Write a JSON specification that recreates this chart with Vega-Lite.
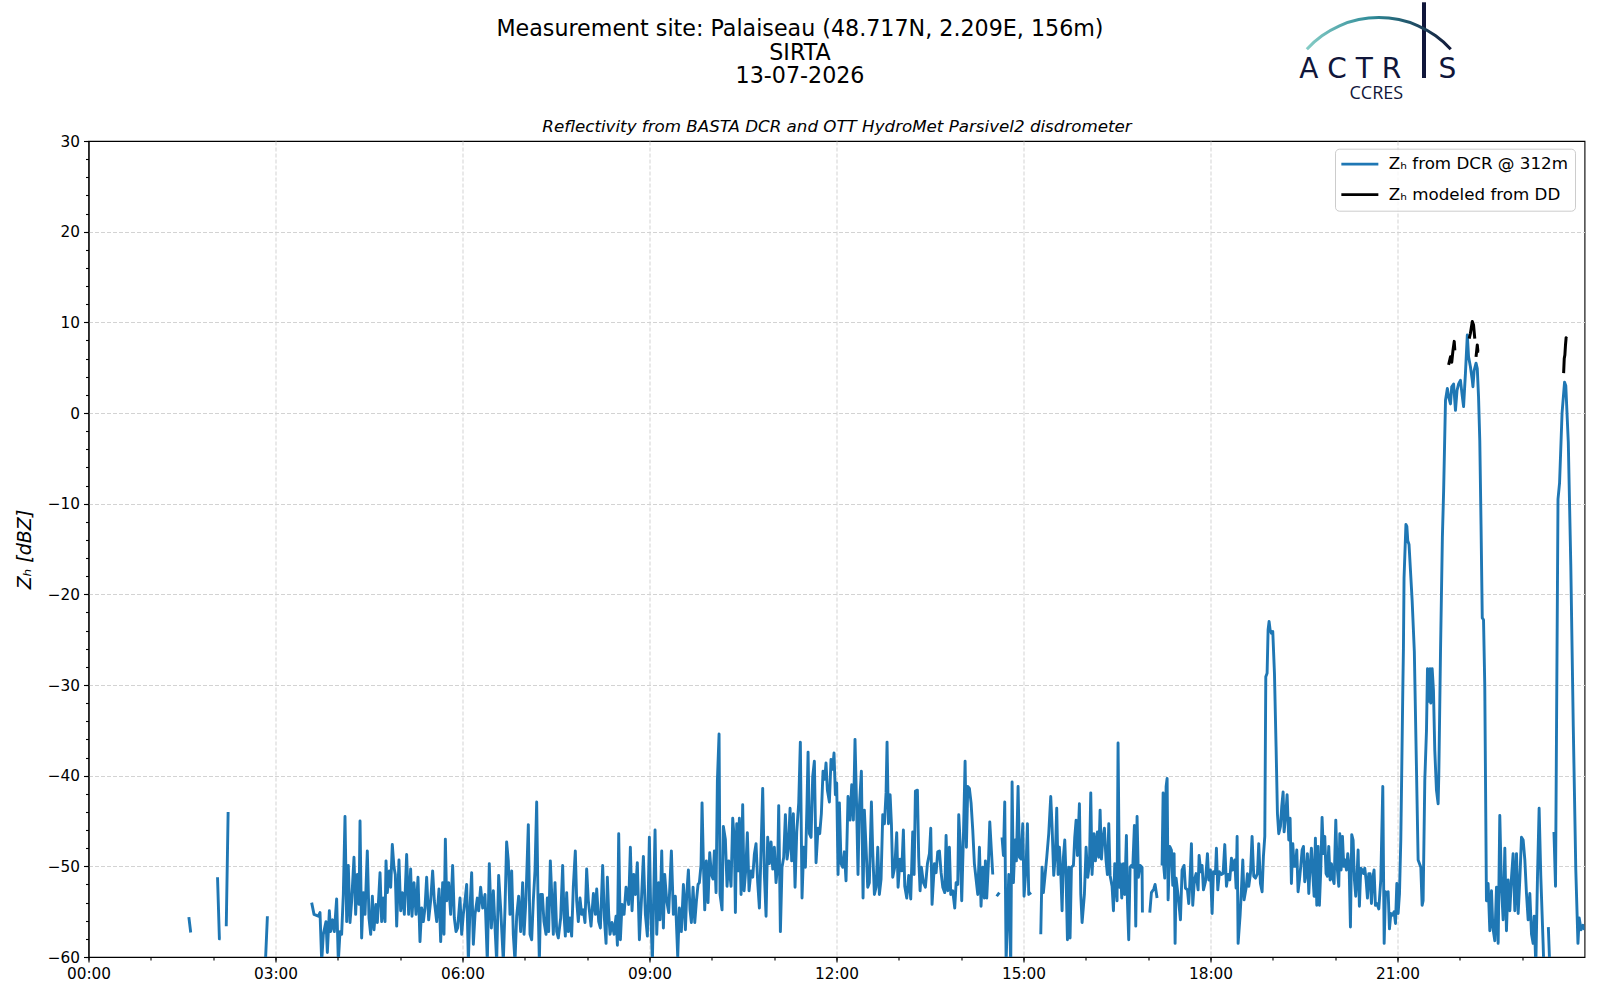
{
  "$schema": "https://vega.github.io/schema/vega-lite/v6.json",
  "width": 1496,
  "height": 816,
  "autosize": {"type": "none"},
  "padding": {"left": 88.5, "top": 141, "right": 15.5, "bottom": 43},
  "background": "white",
  "config": {
    "font": "DejaVu Sans",
    "view": {"stroke": "black", "strokeWidth": 1.1},
    "axis": {
      "labelFont": "DejaVu Sans",
      "labelFontSize": 15.3,
      "labelColor": "black",
      "tickColor": "black",
      "tickWidth": 1.1,
      "domainColor": "black",
      "domainWidth": 1.1,
      "titleFont": "DejaVu Sans",
      "titleFontWeight": "normal",
      "titleColor": "black"
    }
  },
  "title": {
    "text": ["Measurement site: Palaiseau (48.717N, 2.209E, 156m)", "SIRTA", "13-07-2026"],
    "font": "DejaVu Sans",
    "fontSize": 22.2,
    "fontWeight": "normal",
    "color": "black",
    "lineHeight": 23.5,
    "anchor": "middle",
    "frame": "group",
    "dx": -36.5,
    "offset": 30,
    "dy": 117
  },
  "datasets": {
    "dcr": [
      {"t": 1.61, "z": -55.6}, {"t": 1.64, "z": -57.3}, {"t": 1.65, "z": null},
      {"t": 2.07, "z": -51.2}, {"t": 2.10, "z": -58.0}, {"t": 2.12, "z": -58.0}, {"t": 2.13, "z": null},
      {"t": 2.21, "z": -56.6}, {"t": 2.24, "z": -44.0}, {"t": 2.25, "z": null},
      {"t": 2.84, "z": -60.3}, {"t": 2.87, "z": -55.5}, {"t": 2.88, "z": null},
      {"t": 3.58, "z": -54.0}, {"t": 3.618, "z": -55.3}, {"t": 3.687, "z": -55.5}, {"t": 3.714, "z": -55.1},
      {"t": 3.741, "z": -60.5}, {"t": 3.767, "z": -57.5}, {"t": 3.81, "z": -56.1}, {"t": 3.832, "z": -59.5},
      {"t": 3.864, "z": -54.9}, {"t": 3.885, "z": -57.2}, {"t": 3.917, "z": -55.9}, {"t": 3.944, "z": -57.2},
      {"t": 3.981, "z": -53.6}, {"t": 4.008, "z": -60.5}, {"t": 4.035, "z": -57.2}, {"t": 4.061, "z": -57.5},
      {"t": 4.088, "z": -53.1}, {"t": 4.115, "z": -44.5}, {"t": 4.142, "z": -56.1}, {"t": 4.168, "z": -49.9},
      {"t": 4.195, "z": -56.2}, {"t": 4.222, "z": -53.8}, {"t": 4.259, "z": -49.0}, {"t": 4.286, "z": -55.3},
      {"t": 4.313, "z": -50.9}, {"t": 4.34, "z": -54.2}, {"t": 4.356, "z": -45.0}, {"t": 4.382, "z": -57.9},
      {"t": 4.409, "z": -52.9}, {"t": 4.436, "z": -55.3}, {"t": 4.473, "z": -48.3}, {"t": 4.5, "z": -55.7},
      {"t": 4.527, "z": -57.5}, {"t": 4.554, "z": -53.3}, {"t": 4.58, "z": -57.0}, {"t": 4.612, "z": -54.2},
      {"t": 4.634, "z": -56.2}, {"t": 4.677, "z": -50.7}, {"t": 4.703, "z": -56.1}, {"t": 4.73, "z": -53.5},
      {"t": 4.757, "z": -56.1}, {"t": 4.773, "z": -49.4}, {"t": 4.794, "z": -52.9}, {"t": 4.826, "z": -50.5},
      {"t": 4.848, "z": -52.3}, {"t": 4.874, "z": -47.6}, {"t": 4.901, "z": -50.1}, {"t": 4.922, "z": -50.9},
      {"t": 4.944, "z": -56.6}, {"t": 4.981, "z": -49.3}, {"t": 5.008, "z": -54.9}, {"t": 5.035, "z": -52.9},
      {"t": 5.067, "z": -55.3}, {"t": 5.104, "z": -48.7}, {"t": 5.136, "z": -55.3}, {"t": 5.168, "z": -50.3},
      {"t": 5.19, "z": -55.5}, {"t": 5.222, "z": -51.8}, {"t": 5.254, "z": -55.3}, {"t": 5.286, "z": -51.2},
      {"t": 5.318, "z": -58.3}, {"t": 5.345, "z": -54.6}, {"t": 5.372, "z": -56.1}, {"t": 5.398, "z": -54.6},
      {"t": 5.425, "z": -51.2}, {"t": 5.457, "z": -55.9}, {"t": 5.489, "z": -53.8}, {"t": 5.521, "z": -50.5},
      {"t": 5.548, "z": -53.8}, {"t": 5.586, "z": -56.1}, {"t": 5.623, "z": -52.5}, {"t": 5.65, "z": -58.3},
      {"t": 5.682, "z": -51.8}, {"t": 5.703, "z": -57.5}, {"t": 5.725, "z": -47.0}, {"t": 5.746, "z": -53.8},
      {"t": 5.778, "z": -51.8}, {"t": 5.81, "z": -55.3}, {"t": 5.842, "z": -49.9}, {"t": 5.869, "z": -55.7},
      {"t": 5.896, "z": -57.2}, {"t": 5.922, "z": -56.8}, {"t": 5.96, "z": -53.5}, {"t": 5.987, "z": -57.5},
      {"t": 6.013, "z": -55.3}, {"t": 6.04, "z": -53.8}, {"t": 6.067, "z": -52.0}, {"t": 6.094, "z": -60.5},
      {"t": 6.12, "z": -54.6}, {"t": 6.147, "z": -50.7}, {"t": 6.174, "z": -58.6}, {"t": 6.201, "z": -55.3},
      {"t": 6.238, "z": -53.5}, {"t": 6.259, "z": -54.9}, {"t": 6.291, "z": -52.3}, {"t": 6.324, "z": -54.6},
      {"t": 6.361, "z": -53.1}, {"t": 6.398, "z": -60.5}, {"t": 6.43, "z": -49.7}, {"t": 6.463, "z": -56.8},
      {"t": 6.495, "z": -52.7}, {"t": 6.527, "z": -57.5}, {"t": 6.548, "z": -60.5}, {"t": 6.58, "z": -51.0},
      {"t": 6.612, "z": -54.6}, {"t": 6.655, "z": -60.5}, {"t": 6.682, "z": -54.6}, {"t": 6.708, "z": -47.3},
      {"t": 6.735, "z": -49.4}, {"t": 6.762, "z": -55.3}, {"t": 6.789, "z": -50.5}, {"t": 6.815, "z": -57.5},
      {"t": 6.842, "z": -60.5}, {"t": 6.869, "z": -55.5}, {"t": 6.901, "z": -53.3}, {"t": 6.933, "z": -57.2},
      {"t": 6.965, "z": -51.8}, {"t": 6.987, "z": -57.5}, {"t": 7.019, "z": -53.5}, {"t": 7.056, "z": -45.4},
      {"t": 7.083, "z": -57.5}, {"t": 7.11, "z": -58.1}, {"t": 7.136, "z": -53.8}, {"t": 7.163, "z": -50.5},
      {"t": 7.19, "z": -42.9}, {"t": 7.211, "z": -53.5}, {"t": 7.233, "z": -60.5}, {"t": 7.254, "z": -53.1},
      {"t": 7.281, "z": -53.1}, {"t": 7.307, "z": -56.1}, {"t": 7.34, "z": -57.5}, {"t": 7.361, "z": -53.5},
      {"t": 7.382, "z": -57.2}, {"t": 7.409, "z": -49.4}, {"t": 7.436, "z": -53.8}, {"t": 7.457, "z": -57.5},
      {"t": 7.484, "z": -51.8}, {"t": 7.511, "z": -57.2}, {"t": 7.537, "z": -57.9}, {"t": 7.575, "z": -55.7},
      {"t": 7.607, "z": -49.9}, {"t": 7.628, "z": -55.3}, {"t": 7.65, "z": -57.7}, {"t": 7.671, "z": -52.9},
      {"t": 7.698, "z": -57.2}, {"t": 7.725, "z": -55.7}, {"t": 7.751, "z": -57.7}, {"t": 7.778, "z": -52.2},
      {"t": 7.81, "z": -48.3}, {"t": 7.832, "z": -53.8}, {"t": 7.858, "z": -56.1}, {"t": 7.885, "z": -53.5},
      {"t": 7.912, "z": -55.3}, {"t": 7.938, "z": -54.8}, {"t": 7.965, "z": -56.2}, {"t": 7.992, "z": -50.3},
      {"t": 8.019, "z": -53.8}, {"t": 8.062, "z": -56.6}, {"t": 8.10, "z": -53.0}, {"t": 8.132, "z": -55.3},
      {"t": 8.153, "z": -52.5}, {"t": 8.185, "z": -56.1}, {"t": 8.212, "z": -56.8}, {"t": 8.249, "z": -49.9},
      {"t": 8.276, "z": -55.7}, {"t": 8.303, "z": -58.5}, {"t": 8.324, "z": -51.2}, {"t": 8.346, "z": -55.3},
      {"t": 8.367, "z": -57.5}, {"t": 8.399, "z": -56.2}, {"t": 8.431, "z": -57.5}, {"t": 8.463, "z": -55.5},
      {"t": 8.485, "z": -58.7}, {"t": 8.506, "z": -46.4}, {"t": 8.533, "z": -58.1}, {"t": 8.559, "z": -54.2},
      {"t": 8.592, "z": -55.3}, {"t": 8.624, "z": -52.3}, {"t": 8.666, "z": -54.2}, {"t": 8.693, "z": -47.9},
      {"t": 8.72, "z": -54.9}, {"t": 8.747, "z": -50.9}, {"t": 8.773, "z": -53.1}, {"t": 8.805, "z": -49.6},
      {"t": 8.838, "z": -58.1}, {"t": 8.87, "z": -53.8}, {"t": 8.902, "z": -48.9}, {"t": 8.934, "z": -55.3},
      {"t": 8.966, "z": -57.7}, {"t": 8.998, "z": -46.8}, {"t": 9.019, "z": -54.6}, {"t": 9.046, "z": -60.5},
      {"t": 9.089, "z": -46.0}, {"t": 9.116, "z": -57.5}, {"t": 9.148, "z": -51.8}, {"t": 9.169, "z": -55.9},
      {"t": 9.196, "z": -48.3}, {"t": 9.223, "z": -56.8}, {"t": 9.244, "z": -50.9}, {"t": 9.276, "z": -53.8},
      {"t": 9.308, "z": -55.1}, {"t": 9.351, "z": -48.3}, {"t": 9.383, "z": -55.3}, {"t": 9.415, "z": -53.3},
      {"t": 9.453, "z": -60.0}, {"t": 9.479, "z": -54.6}, {"t": 9.511, "z": -57.2}, {"t": 9.544, "z": -52.0},
      {"t": 9.576, "z": -57.0}, {"t": 9.597, "z": -53.1}, {"t": 9.624, "z": -50.4}, {"t": 9.65, "z": -54.8},
      {"t": 9.672, "z": -56.2}, {"t": 9.699, "z": -52.3}, {"t": 9.726, "z": -56.2}, {"t": 9.752, "z": -53.9},
      {"t": 9.779, "z": -52.0}, {"t": 9.80, "z": -51.8}, {"t": 9.827, "z": -49.8}, {"t": 9.843, "z": -43.0},
      {"t": 9.864, "z": -49.4}, {"t": 9.886, "z": -54.8}, {"t": 9.912, "z": -49.4}, {"t": 9.939, "z": -54.0},
      {"t": 9.966, "z": -48.5}, {"t": 9.993, "z": -50.9}, {"t": 10.019, "z": -51.4}, {"t": 10.041, "z": -48.3},
      {"t": 10.068, "z": -52.9}, {"t": 10.089, "z": -40.6}, {"t": 10.116, "z": -35.4}, {"t": 10.132, "z": -53.1},
      {"t": 10.164, "z": -54.8}, {"t": 10.185, "z": -45.6}, {"t": 10.217, "z": -47.0}, {"t": 10.244, "z": -52.2},
      {"t": 10.271, "z": -49.4}, {"t": 10.308, "z": -52.2}, {"t": 10.335, "z": -44.7}, {"t": 10.362, "z": -47.1},
      {"t": 10.378, "z": -55.1}, {"t": 10.399, "z": -45.3}, {"t": 10.421, "z": -50.5}, {"t": 10.442, "z": -44.7},
      {"t": 10.469, "z": -53.1}, {"t": 10.495, "z": -43.2}, {"t": 10.517, "z": -52.7}, {"t": 10.543, "z": -50.5},
      {"t": 10.57, "z": -46.3}, {"t": 10.597, "z": -52.7}, {"t": 10.629, "z": -50.5}, {"t": 10.656, "z": -51.2},
      {"t": 10.683, "z": -48.6}, {"t": 10.709, "z": -47.5}, {"t": 10.736, "z": -51.8}, {"t": 10.763, "z": -54.6},
      {"t": 10.784, "z": -49.6}, {"t": 10.816, "z": -41.4}, {"t": 10.843, "z": -50.9}, {"t": 10.87, "z": -55.5},
      {"t": 10.896, "z": -46.8}, {"t": 10.923, "z": -49.7}, {"t": 10.95, "z": -47.3}, {"t": 10.977, "z": -50.3},
      {"t": 11.003, "z": -47.9}, {"t": 11.03, "z": -51.8}, {"t": 11.057, "z": -49.7}, {"t": 11.073, "z": -43.3},
      {"t": 11.10, "z": -57.2}, {"t": 11.126, "z": -50.1}, {"t": 11.153, "z": -49.0}, {"t": 11.18, "z": -44.3},
      {"t": 11.207, "z": -49.2}, {"t": 11.228, "z": -48.1}, {"t": 11.255, "z": -43.6}, {"t": 11.281, "z": -49.4},
      {"t": 11.308, "z": -44.2}, {"t": 11.335, "z": -52.3}, {"t": 11.362, "z": -46.2}, {"t": 11.394, "z": -43.0},
      {"t": 11.42, "z": -36.3}, {"t": 11.447, "z": -53.5}, {"t": 11.474, "z": -47.9}, {"t": 11.501, "z": -50.1},
      {"t": 11.527, "z": -43.0}, {"t": 11.544, "z": -37.4}, {"t": 11.565, "z": -46.4}, {"t": 11.592, "z": -46.8},
      {"t": 11.618, "z": -40.1}, {"t": 11.645, "z": -38.4}, {"t": 11.672, "z": -49.6}, {"t": 11.704, "z": -45.8},
      {"t": 11.731, "z": -46.4}, {"t": 11.757, "z": -44.2}, {"t": 11.784, "z": -39.5}, {"t": 11.811, "z": -40.4},
      {"t": 11.832, "z": -38.6}, {"t": 11.854, "z": -41.6}, {"t": 11.886, "z": -42.9}, {"t": 11.912, "z": -38.2},
      {"t": 11.939, "z": -39.3}, {"t": 11.96, "z": -37.5}, {"t": 11.982, "z": -42.1}, {"t": 12.003, "z": -40.8},
      {"t": 12.025, "z": -50.9}, {"t": 12.046, "z": -43.0}, {"t": 12.073, "z": -49.7}, {"t": 12.099, "z": -50.1},
      {"t": 12.126, "z": -48.4}, {"t": 12.153, "z": -51.6}, {"t": 12.185, "z": -42.3}, {"t": 12.217, "z": -44.9},
      {"t": 12.244, "z": -41.0}, {"t": 12.271, "z": -44.9}, {"t": 12.297, "z": -36.0}, {"t": 12.324, "z": -43.8},
      {"t": 12.345, "z": -50.9}, {"t": 12.367, "z": -43.4}, {"t": 12.399, "z": -39.5}, {"t": 12.426, "z": -53.5},
      {"t": 12.447, "z": -43.8}, {"t": 12.474, "z": -47.9}, {"t": 12.501, "z": -52.3}, {"t": 12.527, "z": -51.8},
      {"t": 12.56, "z": -42.9}, {"t": 12.581, "z": -48.3}, {"t": 12.608, "z": -53.1}, {"t": 12.635, "z": -52.3},
      {"t": 12.662, "z": -47.9}, {"t": 12.688, "z": -53.1}, {"t": 12.715, "z": -51.4}, {"t": 12.742, "z": -44.3},
      {"t": 12.769, "z": -45.3}, {"t": 12.795, "z": -41.9}, {"t": 12.811, "z": -36.3}, {"t": 12.833, "z": -45.3},
      {"t": 12.86, "z": -42.1}, {"t": 12.881, "z": -45.3}, {"t": 12.902, "z": -51.2}, {"t": 12.934, "z": -50.1},
      {"t": 12.966, "z": -46.3}, {"t": 12.988, "z": -52.3}, {"t": 13.02, "z": -49.2}, {"t": 13.047, "z": -50.5},
      {"t": 13.073, "z": -46.0}, {"t": 13.095, "z": -52.2}, {"t": 13.127, "z": -53.5}, {"t": 13.159, "z": -51.0},
      {"t": 13.191, "z": -53.6}, {"t": 13.223, "z": -46.2}, {"t": 13.245, "z": -50.9}, {"t": 13.266, "z": -41.7},
      {"t": 13.298, "z": -41.6}, {"t": 13.319, "z": -49.0}, {"t": 13.341, "z": -52.7}, {"t": 13.362, "z": -50.1},
      {"t": 13.394, "z": -51.8}, {"t": 13.426, "z": -52.3}, {"t": 13.459, "z": -49.7}, {"t": 13.491, "z": -48.6},
      {"t": 13.512, "z": -45.8}, {"t": 13.533, "z": -54.2}, {"t": 13.571, "z": -49.7}, {"t": 13.598, "z": -50.7},
      {"t": 13.624, "z": -48.4}, {"t": 13.651, "z": -48.3}, {"t": 13.678, "z": -50.7}, {"t": 13.705, "z": -52.3},
      {"t": 13.737, "z": -52.9}, {"t": 13.758, "z": -46.6}, {"t": 13.785, "z": -52.7}, {"t": 13.811, "z": -47.9},
      {"t": 13.833, "z": -53.1}, {"t": 13.865, "z": -52.7}, {"t": 13.897, "z": -54.6}, {"t": 13.919, "z": -51.8},
      {"t": 13.945, "z": -52.0}, {"t": 13.961, "z": -44.3}, {"t": 13.983, "z": -47.3}, {"t": 14.009, "z": -53.8},
      {"t": 14.036, "z": -46.8}, {"t": 14.063, "z": -38.4}, {"t": 14.084, "z": -47.9}, {"t": 14.106, "z": -41.2},
      {"t": 14.132, "z": -41.4}, {"t": 14.159, "z": -43.0}, {"t": 14.186, "z": -46.0}, {"t": 14.212, "z": -49.7},
      {"t": 14.239, "z": -51.4}, {"t": 14.266, "z": -53.1}, {"t": 14.293, "z": -47.9}, {"t": 14.319, "z": -54.4},
      {"t": 14.346, "z": -50.1}, {"t": 14.373, "z": -53.5}, {"t": 14.389, "z": -49.4}, {"t": 14.41, "z": -53.5},
      {"t": 14.437, "z": -49.7}, {"t": 14.459, "z": -45.1}, {"t": 14.485, "z": -48.3}, {"t": 14.507, "z": -50.9},
      {"t": 14.54, "z": null},
      {"t": 14.57, "z": -53.3}, {"t": 14.613, "z": -52.9}, {"t": 14.635, "z": null},
      {"t": 14.656, "z": -46.8}, {"t": 14.678, "z": -48.8}, {"t": 14.699, "z": -42.9}, {"t": 14.721, "z": -60.5},
      {"t": 14.764, "z": -50.9}, {"t": 14.795, "z": -61.0}, {"t": 14.817, "z": -40.7}, {"t": 14.838, "z": -51.8},
      {"t": 14.865, "z": -47.1}, {"t": 14.886, "z": -49.4}, {"t": 14.913, "z": -41.2}, {"t": 14.935, "z": -49.0},
      {"t": 14.961, "z": -49.2}, {"t": 14.988, "z": -45.3}, {"t": 15.009, "z": -53.3}, {"t": 15.041, "z": -50.1},
      {"t": 15.063, "z": -45.3}, {"t": 15.084, "z": -53.1}, {"t": 15.122, "z": -52.9}, {"t": 15.2, "z": null},
      {"t": 15.277, "z": -57.5}, {"t": 15.298, "z": -50.1}, {"t": 15.319, "z": -52.9}, {"t": 15.346, "z": -51.0},
      {"t": 15.373, "z": -49.0}, {"t": 15.405, "z": -46.4}, {"t": 15.437, "z": -42.3}, {"t": 15.459, "z": -45.7},
      {"t": 15.485, "z": -51.0}, {"t": 15.512, "z": -48.6}, {"t": 15.533, "z": -43.6}, {"t": 15.555, "z": -50.9},
      {"t": 15.576, "z": -47.9}, {"t": 15.597, "z": -50.5}, {"t": 15.619, "z": -54.9}, {"t": 15.64, "z": -49.0},
      {"t": 15.662, "z": -47.1}, {"t": 15.683, "z": -51.2}, {"t": 15.705, "z": -58.1}, {"t": 15.726, "z": -50.1},
      {"t": 15.747, "z": -57.9}, {"t": 15.769, "z": -50.1}, {"t": 15.801, "z": -49.9}, {"t": 15.822, "z": -46.8},
      {"t": 15.844, "z": -44.9}, {"t": 15.865, "z": -48.8}, {"t": 15.897, "z": -43.1}, {"t": 15.919, "z": -53.1},
      {"t": 15.94, "z": -56.2}, {"t": 15.977, "z": -53.1}, {"t": 16.004, "z": -47.9}, {"t": 16.031, "z": -51.2},
      {"t": 16.058, "z": -49.7}, {"t": 16.079, "z": -41.9}, {"t": 16.1, "z": -50.9}, {"t": 16.132, "z": -46.4},
      {"t": 16.154, "z": -49.4}, {"t": 16.186, "z": -46.2}, {"t": 16.207, "z": -49.0}, {"t": 16.229, "z": -43.8},
      {"t": 16.25, "z": -49.2}, {"t": 16.271, "z": -47.1}, {"t": 16.298, "z": -45.8}, {"t": 16.325, "z": -49.4},
      {"t": 16.346, "z": -50.9}, {"t": 16.368, "z": -45.3}, {"t": 16.389, "z": -51.0}, {"t": 16.421, "z": -52.2},
      {"t": 16.443, "z": -54.9}, {"t": 16.464, "z": -49.7}, {"t": 16.485, "z": -52.3}, {"t": 16.501, "z": -53.8},
      {"t": 16.517, "z": -36.4}, {"t": 16.539, "z": -52.3}, {"t": 16.555, "z": -49.7}, {"t": 16.576, "z": -53.5},
      {"t": 16.603, "z": -49.7}, {"t": 16.624, "z": -53.1}, {"t": 16.651, "z": -46.6}, {"t": 16.667, "z": -53.8},
      {"t": 16.688, "z": -58.1}, {"t": 16.71, "z": -50.1}, {"t": 16.731, "z": -49.9}, {"t": 16.753, "z": -50.1},
      {"t": 16.779, "z": -45.5}, {"t": 16.801, "z": -56.6}, {"t": 16.822, "z": -44.5}, {"t": 16.843, "z": -51.2},
      {"t": 16.87, "z": -49.9}, {"t": 16.902, "z": -50.1}, {"t": 16.908, "z": -55.1}, {"t": 16.97, "z": null},
      {"t": 17.026, "z": -55.1}, {"t": 17.052, "z": -52.9}, {"t": 17.09, "z": -52.5}, {"t": 17.111, "z": -52.0},
      {"t": 17.143, "z": -53.5}, {"t": 17.18, "z": null},
      {"t": 17.223, "z": -49.9}, {"t": 17.24, "z": -41.9}, {"t": 17.25, "z": -50.0}, {"t": 17.266, "z": -51.3},
      {"t": 17.288, "z": -41.2}, {"t": 17.304, "z": -40.3}, {"t": 17.32, "z": -53.7}, {"t": 17.346, "z": -47.8},
      {"t": 17.373, "z": -48.2}, {"t": 17.395, "z": -52.1}, {"t": 17.416, "z": -48.6}, {"t": 17.432, "z": -58.5},
      {"t": 17.448, "z": -51.3}, {"t": 17.48, "z": -53.2}, {"t": 17.518, "z": -55.9}, {"t": 17.544, "z": -50.4},
      {"t": 17.576, "z": -49.9}, {"t": 17.598, "z": -52.4}, {"t": 17.63, "z": -52.6}, {"t": 17.651, "z": -54.1},
      {"t": 17.667, "z": -52.1}, {"t": 17.694, "z": -47.5}, {"t": 17.715, "z": -54.3}, {"t": 17.742, "z": -51.5},
      {"t": 17.769, "z": -50.8}, {"t": 17.801, "z": -52.6}, {"t": 17.817, "z": -48.8}, {"t": 17.844, "z": -50.6},
      {"t": 17.865, "z": -49.9}, {"t": 17.887, "z": -52.6}, {"t": 17.919, "z": -51.7}, {"t": 17.951, "z": -48.6},
      {"t": 17.972, "z": -51.5}, {"t": 17.999, "z": -50.4}, {"t": 18.026, "z": -55.2}, {"t": 18.047, "z": -50.6},
      {"t": 18.079, "z": -50.8}, {"t": 18.095, "z": -48.0}, {"t": 18.117, "z": -52.6}, {"t": 18.143, "z": -50.6},
      {"t": 18.175, "z": -50.9}, {"t": 18.202, "z": -50.8}, {"t": 18.229, "z": -47.6}, {"t": 18.256, "z": -52.2},
      {"t": 18.282, "z": -50.9}, {"t": 18.309, "z": -51.5}, {"t": 18.336, "z": -49.1}, {"t": 18.357, "z": -50.4},
      {"t": 18.389, "z": -49.3}, {"t": 18.411, "z": -52.4}, {"t": 18.427, "z": -46.7}, {"t": 18.443, "z": -58.5},
      {"t": 18.475, "z": -55.4}, {"t": 18.496, "z": -52.6}, {"t": 18.518, "z": -49.3}, {"t": 18.539, "z": -53.7},
      {"t": 18.571, "z": -52.4}, {"t": 18.593, "z": -50.8}, {"t": 18.614, "z": -52.2}, {"t": 18.641, "z": -50.8},
      {"t": 18.667, "z": -46.7}, {"t": 18.694, "z": -51.1}, {"t": 18.721, "z": -51.3}, {"t": 18.753, "z": -50.8},
      {"t": 18.774, "z": -47.5}, {"t": 18.801, "z": -51.9}, {"t": 18.828, "z": -52.8}, {"t": 18.849, "z": -48.9},
      {"t": 18.871, "z": -46.7}, {"t": 18.887, "z": -29.1}, {"t": 18.908, "z": -28.7}, {"t": 18.924, "z": -23.9},
      {"t": 18.94, "z": -23.0}, {"t": 18.956, "z": -23.9}, {"t": 18.977, "z": -24.3}, {"t": 18.999, "z": -24.1},
      {"t": 19.026, "z": -28.7}, {"t": 19.052, "z": -36.8}, {"t": 19.074, "z": -44.2}, {"t": 19.095, "z": -46.4},
      {"t": 19.122, "z": -45.6}, {"t": 19.143, "z": -43.4}, {"t": 19.165, "z": -41.8}, {"t": 19.181, "z": -46.2},
      {"t": 19.208, "z": -44.2}, {"t": 19.229, "z": -42.1}, {"t": 19.256, "z": -47.1}, {"t": 19.277, "z": -44.7},
      {"t": 19.298, "z": -51.9}, {"t": 19.32, "z": -47.5}, {"t": 19.341, "z": -50.0}, {"t": 19.363, "z": -50.0},
      {"t": 19.384, "z": -48.2}, {"t": 19.405, "z": -52.8}, {"t": 19.427, "z": -51.5}, {"t": 19.448, "z": -50.0},
      {"t": 19.47, "z": -48.2}, {"t": 19.491, "z": -47.8}, {"t": 19.512, "z": -51.7}, {"t": 19.534, "z": -50.8},
      {"t": 19.555, "z": -48.6}, {"t": 19.577, "z": -53.0}, {"t": 19.598, "z": -50.0}, {"t": 19.619, "z": -48.0},
      {"t": 19.641, "z": -50.8}, {"t": 19.662, "z": -53.3}, {"t": 19.683, "z": -46.9}, {"t": 19.705, "z": -54.3},
      {"t": 19.726, "z": -47.8}, {"t": 19.747, "z": -54.3}, {"t": 19.769, "z": -50.4}, {"t": 19.79, "z": -44.6},
      {"t": 19.812, "z": -48.6}, {"t": 19.833, "z": -46.7}, {"t": 19.854, "z": -50.8}, {"t": 19.876, "z": -51.1},
      {"t": 19.897, "z": -47.8}, {"t": 19.919, "z": -51.5}, {"t": 19.94, "z": -49.7}, {"t": 19.961, "z": -51.3},
      {"t": 19.983, "z": -51.9}, {"t": 20.01, "z": -44.9}, {"t": 20.031, "z": -50.0}, {"t": 20.058, "z": -52.2},
      {"t": 20.074, "z": -46.4}, {"t": 20.095, "z": -50.4}, {"t": 20.117, "z": -46.7}, {"t": 20.138, "z": -50.0},
      {"t": 20.159, "z": -49.3}, {"t": 20.181, "z": -50.4}, {"t": 20.202, "z": -48.6}, {"t": 20.224, "z": -50.0},
      {"t": 20.245, "z": -56.7}, {"t": 20.266, "z": -46.5}, {"t": 20.288, "z": -47.1}, {"t": 20.309, "z": -51.5},
      {"t": 20.33, "z": -53.3}, {"t": 20.352, "z": -50.8}, {"t": 20.368, "z": -48.2}, {"t": 20.389, "z": -54.4},
      {"t": 20.411, "z": -50.2}, {"t": 20.432, "z": -50.4}, {"t": 20.454, "z": -50.8}, {"t": 20.475, "z": -50.2},
      {"t": 20.496, "z": -51.5}, {"t": 20.518, "z": -53.5}, {"t": 20.539, "z": -50.8}, {"t": 20.56, "z": -50.8},
      {"t": 20.582, "z": -54.1}, {"t": 20.603, "z": -51.3}, {"t": 20.624, "z": -50.4}, {"t": 20.646, "z": -54.3},
      {"t": 20.67, "z": -54.1}, {"t": 20.70, "z": -54.7}, {"t": 20.732, "z": -51.5}, {"t": 20.764, "z": -41.2},
      {"t": 20.786, "z": -58.5}, {"t": 20.807, "z": -52.8}, {"t": 20.829, "z": -53.0}, {"t": 20.85, "z": -52.8},
      {"t": 20.871, "z": -56.9}, {"t": 20.893, "z": -55.2}, {"t": 20.919, "z": -55.4}, {"t": 20.946, "z": -55.0},
      {"t": 20.968, "z": -56.3}, {"t": 20.989, "z": -51.9}, {"t": 21.01, "z": -55.2}, {"t": 21.032, "z": -53.0},
      {"t": 21.053, "z": -47.1}, {"t": 21.069, "z": -39.0}, {"t": 21.085, "z": -30.6}, {"t": 21.095, "z": -26.0},
      {"t": 21.105, "z": -18.2}, {"t": 21.135, "z": -12.3}, {"t": 21.15, "z": -12.5}, {"t": 21.165, "z": -14.1},
      {"t": 21.185, "z": -14.5}, {"t": 21.235, "z": -20.7}, {"t": 21.27, "z": -26.3}, {"t": 21.331, "z": -49.3},
      {"t": 21.374, "z": -50.1}, {"t": 21.395, "z": -54.3}, {"t": 21.411, "z": -53.8}, {"t": 21.438, "z": -40.5},
      {"t": 21.465, "z": -35.0}, {"t": 21.481, "z": -28.2}, {"t": 21.502, "z": -31.8}, {"t": 21.524, "z": -28.2},
      {"t": 21.534, "z": -32.0}, {"t": 21.556, "z": -28.2}, {"t": 21.577, "z": -30.6}, {"t": 21.598, "z": -37.2},
      {"t": 21.625, "z": -41.6}, {"t": 21.652, "z": -43.1}, {"t": 21.663, "z": -39.8}, {"t": 21.69, "z": -26.3},
      {"t": 21.72, "z": -13.7}, {"t": 21.74, "z": -8.6}, {"t": 21.77, "z": 1.4}, {"t": 21.80, "z": 2.7},
      {"t": 21.82, "z": 1.8}, {"t": 21.85, "z": 1.0}, {"t": 21.87, "z": 2.9}, {"t": 21.90, "z": 3.2},
      {"t": 21.93, "z": 0.3}, {"t": 21.955, "z": 2.5}, {"t": 21.98, "z": 3.2}, {"t": 22.01, "z": 3.6},
      {"t": 22.04, "z": 1.8}, {"t": 22.06, "z": 0.7}, {"t": 22.09, "z": 4.4}, {"t": 22.12, "z": 8.6},
      {"t": 22.14, "z": 6.2}, {"t": 22.17, "z": 5.1}, {"t": 22.20, "z": 3.6}, {"t": 22.21, "z": 2.9},
      {"t": 22.23, "z": 4.7}, {"t": 22.26, "z": 5.5}, {"t": 22.28, "z": 4.9}, {"t": 22.30, "z": 1.8},
      {"t": 22.32, "z": -3.0}, {"t": 22.34, "z": -12.3}, {"t": 22.36, "z": -22.6}, {"t": 22.38, "z": -22.8},
      {"t": 22.40, "z": -30.0}, {"t": 22.427, "z": -53.8}, {"t": 22.454, "z": -51.9}, {"t": 22.481, "z": -57.1},
      {"t": 22.508, "z": -52.7}, {"t": 22.529, "z": -56.7}, {"t": 22.561, "z": -58.2}, {"t": 22.588, "z": -52.3},
      {"t": 22.615, "z": -58.5}, {"t": 22.641, "z": -44.4}, {"t": 22.668, "z": -52.3}, {"t": 22.695, "z": -55.9},
      {"t": 22.722, "z": -48.0}, {"t": 22.748, "z": -57.1}, {"t": 22.775, "z": -51.5}, {"t": 22.802, "z": -54.9},
      {"t": 22.829, "z": -51.2}, {"t": 22.855, "z": -48.6}, {"t": 22.882, "z": -54.9}, {"t": 22.909, "z": -48.6},
      {"t": 22.936, "z": -55.2}, {"t": 22.962, "z": -51.5}, {"t": 22.989, "z": -46.8}, {"t": 23.016, "z": -47.1},
      {"t": 23.043, "z": -49.3}, {"t": 23.069, "z": -53.0}, {"t": 23.096, "z": -55.9}, {"t": 23.123, "z": -53.0},
      {"t": 23.15, "z": -57.5}, {"t": 23.176, "z": -58.5}, {"t": 23.192, "z": -55.5}, {"t": 23.219, "z": -61.0},
      {"t": 23.246, "z": -51.1}, {"t": 23.272, "z": -43.6}, {"t": 23.299, "z": -51.1}, {"t": 23.336, "z": -58.5},
      {"t": 23.347, "z": -61.0}, {"t": 23.38, "z": null},
      {"t": 23.42, "z": -56.7}, {"t": 23.44, "z": -60.5}, {"t": 23.46, "z": null},
      {"t": 23.51, "z": -46.2}, {"t": 23.535, "z": -52.2}, {"t": 23.575, "z": -9.5}, {"t": 23.60, "z": -7.7},
      {"t": 23.64, "z": 0.0}, {"t": 23.68, "z": 3.4}, {"t": 23.70, "z": 3.0}, {"t": 23.74, "z": -3.2},
      {"t": 23.78, "z": -16.7}, {"t": 23.82, "z": -34.6}, {"t": 23.86, "z": -50.3}, {"t": 23.895, "z": -58.5},
      {"t": 23.915, "z": -55.7}, {"t": 23.945, "z": -57.0}, {"t": 23.975, "z": -56.5}, {"t": 24.0, "z": -57.0}
    ],
    "dd": [
      {"t": 21.82, "z": 5.3}, {"t": 21.85, "z": 6.2}, {"t": 21.87, "z": 5.6}, {"t": 21.89, "z": 6.9},
      {"t": 21.91, "z": 7.9}, {"t": 21.92, "z": 6.9}, {"t": 21.93, "z": null},
      {"t": 22.15, "z": 8.2}, {"t": 22.17, "z": 8.8}, {"t": 22.20, "z": 10.1}, {"t": 22.22, "z": 9.7},
      {"t": 22.24, "z": 8.2}, {"t": 22.25, "z": null},
      {"t": 22.26, "z": 6.2}, {"t": 22.28, "z": 7.5}, {"t": 22.29, "z": 6.8}, {"t": 22.31, "z": 6.8},
      {"t": 22.32, "z": null},
      {"t": 23.665, "z": 4.4}, {"t": 23.675, "z": 6.0}, {"t": 23.685, "z": 6.4}, {"t": 23.695, "z": 7.5},
      {"t": 23.705, "z": 8.3}, {"t": 23.715, "z": 8.2}
    ]
  },
  "resolve": {"axis": {"x": "independent", "y": "independent"}},
  "layer": [
    {
      "data": {"name": "dcr"},
      "mark": {"type": "line", "strokeWidth": 2.9, "strokeJoin": "round", "clip": true, "invalid": "break-paths-filter-domains"},
      "encoding": {
        "x": {
          "field": "t", "type": "quantitative",
          "scale": {"domain": [0, 24], "nice": false, "zero": false},
          "axis": {
            "orient": "bottom", "values": [0, 3, 6, 9, 12, 15, 18, 21],
            "labelExpr": "(datum.value < 10 ? '0' : '') + datum.value + ':00'",
            "grid": true, "gridColor": "#d3d3d3", "gridDash": [4, 2], "gridWidth": 1,
            "gridOpacity": {"condition": {"test": "datum.value == 0", "value": 0}, "value": 1},
            "tickSize": 5, "labelPadding": 4, "labelFlush": false, "labelOverlap": false, "title": null
          }
        },
        "y": {
          "field": "z", "type": "quantitative",
          "scale": {"domain": [-60, 30], "nice": false, "zero": false},
          "axis": {
            "orient": "left", "values": [-60, -50, -40, -30, -20, -10, 0, 10, 20, 30],
            "grid": true, "gridColor": "#d3d3d3", "gridDash": [4, 2], "gridWidth": 1,
            "gridOpacity": {"condition": {"test": "datum.value == 30 || datum.value == -60", "value": 0}, "value": 1},
            "tickSize": 5, "labelPadding": 4, "labelFlush": false, "labelOverlap": false,
            "title": "Zₕ [dBZ]", "titleFontStyle": "italic", "titleFontSize": 19, "titlePadding": 13
          }
        },
        "color": {
          "datum": "Zₕ from DCR @ 312m",
          "scale": {"domain": ["Zₕ from DCR @ 312m", "Zₕ modeled from DD"], "range": ["#1f77b4", "#000000"]},
          "legend": {
            "orient": "none", "legendX": 1246.5, "legendY": 7.7, "title": null,
            "labelFont": "DejaVu Sans", "labelFontSize": 16.7, "labelColor": "black", "labelLimit": 400,
            "symbolType": "M-3.7,0H3.7", "symbolSize": 100, "symbolStrokeWidth": 2.8, "symbolOffset": 9.5,
            "labelOffset": 20.6, "rowPadding": 12.5, "padding": 7,
            "fillColor": "rgba(255,255,255,0.8)", "strokeColor": "#cccccc", "cornerRadius": 4
          }
        }
      }
    },
    {
      "data": {"name": "dd"},
      "mark": {"type": "line", "strokeWidth": 3, "strokeJoin": "round", "clip": true, "invalid": "break-paths-filter-domains"},
      "encoding": {
        "x": {
          "field": "t", "type": "quantitative",
          "axis": {
            "orient": "bottom", "values": [0, 1, 2, 3, 4, 5, 6, 7, 8, 9, 10, 11, 12, 13, 14, 15, 16, 17, 18, 19, 20, 21, 22, 23],
            "labels": false, "grid": false, "domain": false, "tickSize": 3, "title": null
          }
        },
        "y": {
          "field": "z", "type": "quantitative",
          "axis": {
            "orient": "left", "values": [-60, -58, -56, -54, -52, -50, -48, -46, -44, -42, -40, -38, -36, -34, -32, -30, -28, -26, -24, -22, -20, -18, -16, -14, -12, -10, -8, -6, -4, -2, 0, 2, 4, 6, 8, 10, 12, 14, 16, 18, 20, 22, 24, 26, 28, 30],
            "labels": false, "grid": false, "domain": false, "tickSize": 3, "title": null
          }
        },
        "color": {"datum": "Zₕ modeled from DD"}
      }
    },
    {
      "data": {"values": [{}]},
      "mark": {"type": "text", "text": "A C T R", "font": "DejaVu Sans", "fontSize": 28, "color": "#10163a", "align": "center", "baseline": "alphabetic"},
      "encoding": {
        "x": {
          "datum": 20.24, "type": "quantitative",
          "axis": {
            "orient": "top", "labels": false, "ticks": false, "domain": false, "grid": false,
            "title": "Reflectivity from BASTA DCR and OTT HydroMet Parsivel2 disdrometer",
            "titleFontStyle": "italic", "titleFontSize": 16.7, "titlePadding": 6
          }
        },
        "y": {"datum": 36.95, "type": "quantitative", "axis": null}
      }
    },
    {
      "data": {"values": [{}]},
      "mark": {"type": "text", "text": "S", "font": "DejaVu Sans", "fontSize": 28, "color": "#10163a", "align": "center", "baseline": "alphabetic"},
      "encoding": {
        "x": {"datum": 21.8, "type": "quantitative", "axis": null},
        "y": {"datum": 36.95, "type": "quantitative", "axis": null}
      }
    },
    {
      "data": {"values": [{}]},
      "mark": {"type": "text", "text": "CCRES", "font": "Open Sans", "fontSize": 18, "color": "#10163a", "align": "center", "baseline": "alphabetic"},
      "encoding": {
        "x": {"datum": 20.66, "type": "quantitative", "axis": null},
        "y": {"datum": 34.63, "type": "quantitative", "axis": null}
      }
    },
    {
      "data": {"values": [{}]},
      "mark": {"type": "rule", "color": "#10163a", "strokeWidth": 4},
      "encoding": {
        "x": {"datum": 21.425, "type": "quantitative", "axis": null},
        "y": {"datum": 45.3, "type": "quantitative", "axis": null},
        "y2": {"datum": 36.95}
      }
    },
    {
      "data": {"values": [{}]},
      "mark": {
        "type": "arc", "radius": 99, "radius2": 96, "theta": -0.83, "theta2": 0.83,
        "color": {
          "gradient": "linear", "x1": 0, "x2": 1, "y1": 0, "y2": 0,
          "stops": [
            {"offset": 0, "color": "#86cdc6"},
            {"offset": 0.45, "color": "#2f8b98"},
            {"offset": 1, "color": "#121838"}
          ]
        }
      },
      "encoding": {
        "x": {"datum": 20.70, "type": "quantitative", "axis": null},
        "y": {"datum": 32.87, "type": "quantitative", "axis": null}
      }
    }
  ]
}
